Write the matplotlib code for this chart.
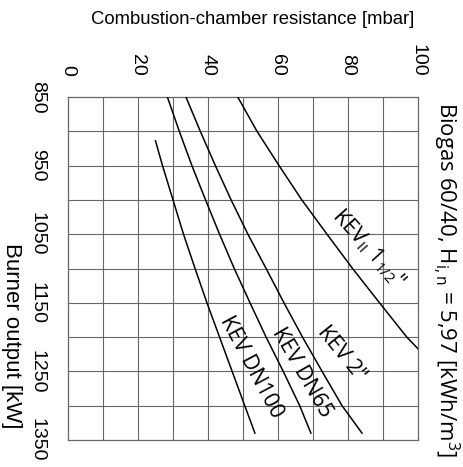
import matplotlib
matplotlib.use("Agg")
import matplotlib.pyplot as plt
import numpy as np

plt.rcParams['mathtext.fontset'] = 'custom'
plt.rcParams['mathtext.rm'] = 'Open Sans'
plt.rcParams['mathtext.it'] = 'Open Sans:italic'

# Data: burner output [kW] vs combustion-chamber resistance [mbar]
kev_1_5_kw = [850, 900, 950, 1000, 1050, 1100, 1150, 1200, 1217]
kev_1_5_mbar = [48.5, 54.0, 60.3, 66.8, 74.0, 81.3, 89.0, 96.8, 100.0]

kev_2_kw = [850, 900, 950, 1000, 1050, 1100, 1150, 1200, 1250, 1300, 1340]
kev_2_mbar = [33.7, 37.8, 42.1, 46.6, 51.4, 56.6, 61.7, 67.0, 72.6, 78.3, 84.0]

kev_dn65_kw = [850, 900, 950, 1000, 1050, 1100, 1150, 1200, 1250, 1300, 1340]
kev_dn65_mbar = [28.4, 31.8, 35.4, 39.3, 43.3, 47.5, 52.0, 56.6, 61.5, 66.2, 69.4]

kev_dn100_kw = [914, 950, 1000, 1050, 1100, 1150, 1200, 1250, 1300, 1340]
kev_dn100_mbar = [25.0, 27.0, 30.0, 33.0, 36.3, 39.7, 43.3, 46.9, 50.5, 53.4]

x_ticks = [0, 20, 40, 60, 80, 100]
y_ticks = [850, 950, 1050, 1150, 1250, 1350]

fig = plt.figure(figsize=(4.63, 4.67), dpi=100)
ax = fig.add_axes([68/463, 1-440/467, 350/463, 343/467])

grid_c = '#666666'
for xv in np.arange(10, 100, 10):
    ax.axvline(xv, color=grid_c, lw=0.8, zorder=1)
for yv in np.arange(900, 1350, 50):
    ax.axhline(yv, color=grid_c, lw=0.8, zorder=1)

for kw, mb in [(kev_1_5_kw, kev_1_5_mbar), (kev_2_kw, kev_2_mbar),
               (kev_dn65_kw, kev_dn65_mbar), (kev_dn100_kw, kev_dn100_mbar)]:
    ax.plot(mb, kw, color='black', lw=1.1, zorder=3)

ax.set_xlim(0, 100)
ax.set_ylim(1350, 850)
ax.xaxis.tick_top()
ax.set_xticks(x_ticks)
ax.set_xticklabels([str(v) for v in x_ticks], rotation=-90,
                   family='Liberation Sans', fontsize=14)
ax.set_yticks(y_ticks)
ax.set_yticklabels([str(v) for v in y_ticks], rotation=-90, va='center',
                   family='Liberation Sans', fontsize=14)
ax.tick_params(axis='x', length=0, pad=15)
ax.tick_params(axis='y', length=0, pad=16)
for s in ax.spines.values():
    s.set_color(grid_c)
    s.set_linewidth(0.9)

lab_font = dict(family='Open Sans', fontsize=15.5, ha='center', va='center',
                rotation_mode='anchor', zorder=4)
ax.text(85.7, 1071, r'KEV$_{\rm II}$ 1$_{\rm 1/2}$"', rotation=-48, **lab_font)
ax.text(78.2, 1224, 'KEV 2"', rotation=-51, **lab_font)
ax.text(66.8, 1251, 'KEV DN65', rotation=-60, **lab_font)
ax.text(52.5, 1244, 'KEV DN100', rotation=-62, **lab_font)

fig.text(252.5/463, 1-20/467, 'Combustion-chamber resistance [mbar]',
         ha='center', va='center', family='Liberation Sans', fontsize=13.3)
fig.text(11/463, 1-336/467, 'Burner output [kW]', rotation=-90,
         ha='center', va='center', family='Liberation Sans', fontsize=16)
fig.text(446/463, 1-280/467, r'Biogas 60/40, H$_{\rm i,n}$ = 5,97 [kWh/m$^{\rm 3}$]',
         rotation=-90, ha='center', va='center', family='Open Sans', fontsize=16)

fig.savefig('out.png', dpi=100)
